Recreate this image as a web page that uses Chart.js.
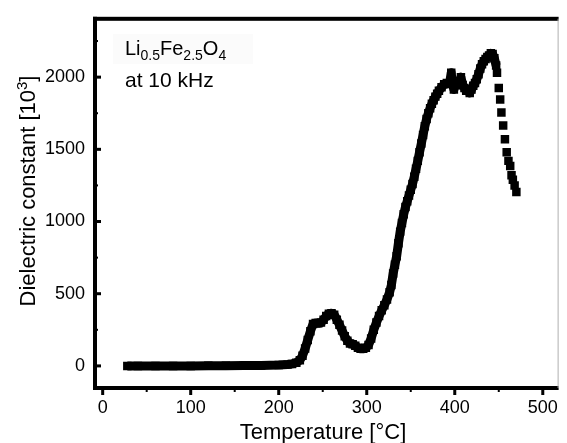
<!DOCTYPE html>
<html><head><meta charset="utf-8">
<script src="https://cdn.jsdelivr.net/npm/chart.js@4"></script>
<style>html,body{margin:0;padding:0;background:#fff}</style>
</head><body>
<canvas id="c" width="567" height="443" style="display:block;width:567px;height:443px"></canvas>
<script>
// ---- data ----
const temperatures = [28,40,60,80,100,120,140,160,180,200,210,215,220,224,227,230,233,236,239,242,245,248,251,254,257,260,263,266,269,272,275,278,281,284,287,290,293,296,299,302,305,308,311,314,317,320,323,326,328,330,332,334,336,338,340,342,344,346,348,350,352,354,356,358,360,362,364,366,368,370,372,374,376,378,380,382,385,388,391,394,396,397,399,401,403,405,407,409,411,413,415,417,419,421,423,425,427,429,431,433,435,437,439,441,443,445,447,448,450,451.6,453,455,457,459,461,463,464.5,466,468,470];
const dielectric = [0,0,0,0,0,1,1,2,3,6,10,14,22,40,70,120,180,240,290,298,295,300,320,345,362,365,355,320,285,245,205,175,155,150,140,125,118,118,125,145,190,250,300,345,385,420,460,510,560,640,700,760,850,930,990,1050,1100,1140,1180,1220,1260,1310,1365,1420,1480,1540,1600,1660,1710,1750,1785,1815,1840,1865,1885,1905,1930,1950,1960,1955,2030,1960,1915,1950,1945,1965,2000,1945,1925,1905,1915,1890,1915,1940,1960,1985,2020,2060,2090,2110,2125,2140,2150,2165,2160,2130,2080,2030,1925,1845,1755,1665,1570,1480,1420,1385,1320,1290,1250,1205];
const xTickValues = [0,100,200,300,400,500];
const xMinorTickValues = [50,150,250,350,450];
const yTickValues = [0,500,1000,1500,2000];
const yMinorTickValues = [250,750,1250,1750,2250];
const xTitle = 'Temperature [°C]';
const yTitleMain = 'Dielectric constant [10';
const yTitleSup = '3';
const yTitleEnd = ']';
const sampleParts = [['Li',false],['0.5',true],['Fe',false],['2.5',true],['O',false],['4',true]];
const sampleNote = 'at 10 kHz';
const tailStart = 447; // beyond this temperature only separate markers are drawn

const FONT = '"Liberation Sans", Arial, Helvetica, sans-serif';

const points = temperatures.map((t,i)=>({x:t,y:dielectric[i]}));

const framePlugin = {
  id:'frame',
  beforeDatasetsDraw(chart){
    const ctx = chart.ctx;
    ctx.save();
    ctx.fillStyle = '#fbfbfb';
    ctx.fillRect(113,34,140,30);
    ctx.restore();
  },
  afterDraw(chart){
    const ctx = chart.ctx, a = chart.chartArea;
    const xs = chart.scales.x, ys = chart.scales.y;
    ctx.save();
    ctx.fillStyle = '#000';
    // frame
    ctx.fillRect(a.left, a.top-2, a.right-a.left, 4);          // top
    ctx.fillRect(a.left, a.top-2, 4, a.bottom-a.top+4);        // left
    ctx.fillRect(a.left, a.bottom-2, a.right-a.left, 4);       // bottom
    ctx.strokeStyle = '#b0b0b0'; ctx.lineWidth = 1;
    ctx.beginPath(); ctx.moveTo(a.right-0.5, a.top); ctx.lineTo(a.right-0.5, a.bottom); ctx.stroke();
    // x ticks (outside)
    xTickValues.forEach(v=>{const p=xs.getPixelForValue(v); ctx.fillRect(p-1.5,a.bottom,3,7);});
    xMinorTickValues.forEach(v=>{const p=xs.getPixelForValue(v); ctx.fillRect(p-1,a.bottom,2,4);});
    // y ticks (inside)
    yTickValues.forEach(v=>{const p=ys.getPixelForValue(v); ctx.fillRect(a.left+2,p-1.5,6,3);});
    yMinorTickValues.forEach(v=>{const p=ys.getPixelForValue(v); ctx.fillRect(a.left+2,p-1,3,2);});
    // titles
    ctx.fillStyle = '#000';
    ctx.textBaseline = 'middle';
    ctx.textAlign = 'center';
    ctx.font = '22px ' + FONT;
    ctx.fillText(xTitle, 323, 433);
    // y title with superscript
    ctx.save();
    ctx.translate(27, 191);
    ctx.rotate(-Math.PI/2);
    ctx.textAlign = 'left';
    ctx.textBaseline = 'alphabetic';
    ctx.font = '22px ' + FONT;
    const w1 = ctx.measureText(yTitleMain).width;
    const w3 = ctx.measureText(yTitleEnd).width;
    ctx.font = '15px ' + FONT;
    const w2 = ctx.measureText(yTitleSup).width;
    let x0 = -(w1+w2+w3)/2;
    const base = 8;
    ctx.font = '22px ' + FONT; ctx.fillText(yTitleMain, x0, base);
    ctx.font = '15px ' + FONT; ctx.fillText(yTitleSup, x0+w1, base-8);
    ctx.font = '22px ' + FONT; ctx.fillText(yTitleEnd, x0+w1+w2, base);
    ctx.restore();
    // sample annotation
    ctx.textAlign = 'left';
    ctx.textBaseline = 'alphabetic';
    let x = 125;
    sampleParts.forEach(([txt,sub])=>{
      ctx.font = (sub?'14px ':'20px ') + FONT;
      ctx.fillText(txt, x, sub?60:55);
      x += ctx.measureText(txt).width;
    });
    ctx.font = '21px ' + FONT;
    ctx.fillText(sampleNote, 125, 87);
    ctx.restore();
  }
};

new Chart(document.getElementById('c'), {
  type:'scatter',
  data:{datasets:[{
    data: points,
    showLine:true,
    borderColor:'#000',
    backgroundColor:'#000',
    borderWidth:9,
    borderCapStyle:'butt',
    borderJoinStyle:'round',
    pointStyle:'rect',
    pointRadius:6,
    pointBorderWidth:0,
    pointBackgroundColor:'#000',
    segment:{
      borderColor: c => (c.p0.parsed.x >= tailStart ? 'rgba(0,0,0,0)' : undefined)
    }
  }]},
  options:{
    responsive:false,
    animation:false,
    events:[],
    layout:{padding:{top:15,right:1,left:0,bottom:0}},
    plugins:{legend:{display:false},tooltip:{enabled:false}},
    scales:{
      x:{
        type:'linear', min:-11, max:518,
        afterFit(s){ s.height = 55; },
        afterBuildTicks(s){ s.ticks = xTickValues.map(v=>({value:v})); },
        grid:{display:false, drawTicks:false},
        border:{display:false},
        ticks:{color:'#000', font:{family:FONT, size:18}, padding:9, maxRotation:0, autoSkip:false, callback:v=>String(v)}
      },
      y:{
        type:'linear', min:-153, max:2404,
        afterFit(s){ s.width = 93; },
        afterBuildTicks(s){ s.ticks = yTickValues.map(v=>({value:v})); },
        grid:{display:false, drawTicks:false},
        border:{display:false},
        ticks:{color:'#000', font:{family:FONT, size:18}, padding:8, autoSkip:false, callback:v=>String(v)}
      }
    }
  },
  plugins:[framePlugin]
});
</script>
</body></html>
